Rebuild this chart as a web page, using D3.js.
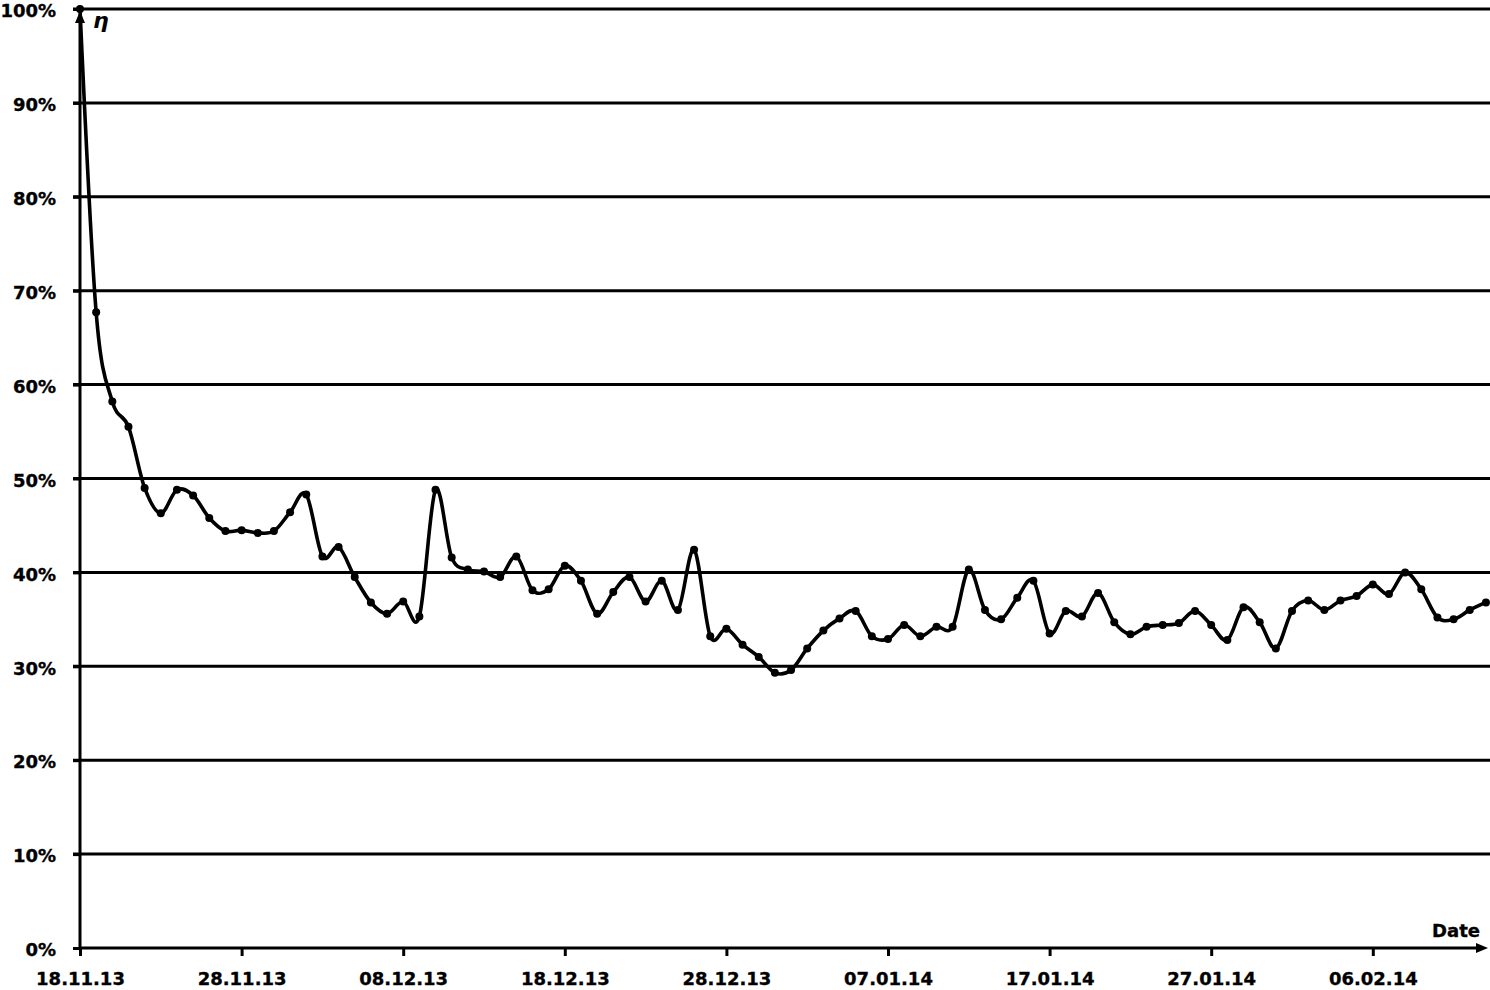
<!DOCTYPE html>
<html>
<head>
<meta charset="utf-8">
<script src="https://cdn.jsdelivr.net/npm/d3@7"></script>
<style>
  html, body { margin: 0; padding: 0; background: #fff; }
  svg { display: block; }
  text { font-family: "DejaVu Sans", Verdana, sans-serif; font-weight: bold; fill: #000; }
</style>
</head>
<body>
<svg id="chart" width="1490" height="990"></svg>
<script>
// ---- data ----
const startDate = "18.11.13";
const efficiency = [
  100, 67.7, 58.2, 55.5, 49.0, 46.3, 48.8, 48.2, 45.8, 44.4,
  44.5, 44.2, 44.4, 46.4, 48.3, 41.7, 42.7, 39.5, 36.8, 35.6,
  36.9, 35.3, 48.8, 41.6, 40.3, 40.1, 39.5, 41.7, 38.1, 38.2,
  40.7, 39.1, 35.6, 37.9, 39.5, 36.9, 39.1, 36.0, 42.4, 33.2,
  34.0, 32.3, 31.0, 29.3, 29.6, 31.9, 33.8, 35.1, 35.9, 33.2,
  32.9, 34.4, 33.2, 34.2, 34.2, 40.3, 36.0, 35.0, 37.3, 39.1,
  33.5, 35.9, 35.3, 37.8, 34.7, 33.4, 34.2, 34.4, 34.6, 35.9,
  34.4, 32.8, 36.3, 34.7, 31.9, 35.9, 37.0, 36.0, 37.0, 37.5,
  38.7, 37.7, 40.0, 38.2, 35.2, 35.0, 36.0, 36.8
];
const xTickLabels = ["18.11.13","28.11.13","08.12.13","18.12.13","28.12.13","07.01.14","17.01.14","27.01.14","06.02.14"];
const yTickValues = [0, 10, 20, 30, 40, 50, 60, 70, 80, 90, 100];
const yAxisLabel = "\u03B7";
const xAxisLabel = "Date";

(function () {
const parse = d3.timeParse("%d.%m.%y");
const fmt = d3.timeFormat("%d.%m.%y");
const t0 = parse(startDate);
const dates = efficiency.map((_, i) => d3.timeDay.offset(t0, i));
const data = efficiency.map((v, i) => ({ date: dates[i], value: v }));

const svg = d3.select("#chart");
const mLeft = 80, mRight = 1490, mBottom = 948, mTop = 9;

const x = d3.scaleTime()
  .domain([dates[0], dates[dates.length - 1]])
  .range([mLeft, mLeft + 87 * 16.16]);
const y = d3.scaleLinear().domain([0, 100]).range([mBottom, mTop]);

// gridlines
svg.append("g").selectAll("line")
  .data(yTickValues.filter(d => d > 0))
  .join("line")
  .attr("x1", mLeft - 7).attr("x2", mRight)
  .attr("y1", d => y(d)).attr("y2", d => y(d))
  .attr("stroke", "#000").attr("stroke-width", 3);

const styleText = sel => sel.attr("font-size", 18).attr("font-family", "DejaVu Sans")
  .attr("font-weight", "bold").attr("stroke", "#000").attr("stroke-width", 0.35);

// y axis labels
const yAxis = d3.axisLeft(y).tickValues(yTickValues).tickSize(7).tickPadding(17)
  .tickFormat(d => d + "%");
const gy = svg.append("g").attr("transform", `translate(${mLeft},0)`).call(yAxis);
gy.select(".domain").remove();
gy.selectAll(".tick line").attr("stroke", "#000").attr("stroke-width", 3);
styleText(gy.selectAll(".tick text")).attr("y", 2);

// x axis
const xTicks = xTickLabels.map(parse);
const xAxis = d3.axisBottom(x).tickValues(xTicks).tickSize(8).tickPadding(16.5)
  .tickFormat(fmt);
const gx = svg.append("g").attr("transform", `translate(0,${mBottom})`).call(xAxis);
gx.select(".domain").remove();
gx.selectAll(".tick line").attr("stroke", "#000").attr("stroke-width", 3);
styleText(gx.selectAll(".tick text"));

// axis lines with arrows
svg.append("line").attr("x1", mLeft).attr("x2", mRight - 8).attr("y1", mBottom).attr("y2", mBottom)
  .attr("stroke", "#000").attr("stroke-width", 3);
svg.append("path").attr("d", `M${mRight - 2},${mBottom} L${mRight - 14},${mBottom - 5} L${mRight - 14},${mBottom + 5} Z`).attr("fill", "#000");
svg.append("line").attr("x1", mLeft).attr("x2", mLeft).attr("y1", mBottom + 1).attr("y2", mTop + 10)
  .attr("stroke", "#000").attr("stroke-width", 3);
svg.append("path").attr("d", `M${mLeft},${mTop + 2} L${mLeft - 5},${mTop + 14} L${mLeft + 5},${mTop + 14} Z`).attr("fill", "#000");

// axis titles
svg.append("text").attr("x", 93).attr("y", 28)
  .attr("font-family", "DejaVu Serif").attr("font-style", "italic").attr("font-weight", "normal")
  .attr("font-size", 22).text(yAxisLabel);
styleText(svg.append("text").attr("x", 1480).attr("y", 937).attr("text-anchor", "end").text(xAxisLabel));

// line
const line = d3.line().x(d => x(d.date)).y(d => y(d.value)).curve(d3.curveCardinal.tension(0));
svg.append("path").datum(data).attr("d", line)
  .attr("fill", "none").attr("stroke", "#000").attr("stroke-width", 3.6).attr("stroke-linejoin", "round");

// markers
svg.append("g").selectAll("circle").data(data).join("circle")
  .attr("cx", d => x(d.date)).attr("cy", d => y(d.value)).attr("r", 4).attr("fill", "#000");
})();
</script>
</body>
</html>
